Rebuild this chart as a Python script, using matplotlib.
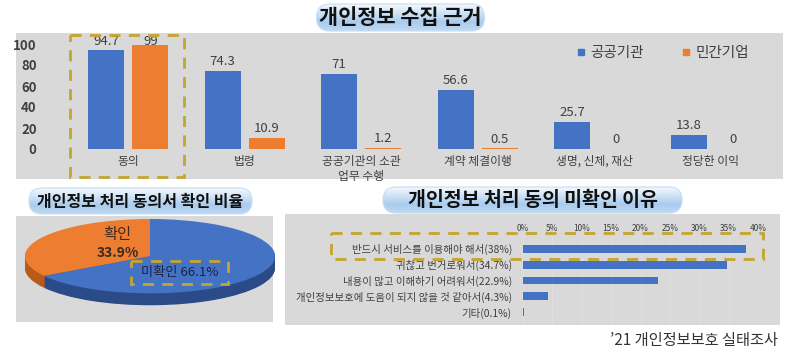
import numpy as np
import matplotlib
matplotlib.use("Agg")
import matplotlib.pyplot as plt
from matplotlib.patches import Rectangle, FancyBboxPatch
from matplotlib.colors import LinearSegmentedColormap
from matplotlib.lines import Line2D

plt.rcParams['font.family'] = ['Noto Sans CJK KR', 'DejaVu Sans']

# ---------------- data ----------------
basis_categories = ["동의", "법령", "공공기관의 소관\n업무 수행", "계약 체결이행", "생명, 신체, 재산", "정당한 이익"]
public_values = [94.7, 74.3, 71, 56.6, 25.7, 13.8]
private_values = [99, 10.9, 1.2, 0.5, 0, 0]
series_names = ["공공기관", "민간기업"]
yticks_top = [0, 20, 40, 60, 80, 100]

pie_labels = ["확인", "미확인"]
pie_values = [33.9, 66.1]

reason_labels = ["반드시 서비스를 이용해야 해서", "귀찮고 번거로워서", "내용이 많고 이해하기 어려워서",
                 "개인정보보호에 도움이 되지 않을 것 같아서", "기타"]
reason_values = [38, 34.7, 22.9, 4.3, 0.1]
reason_ticks = [0, 5, 10, 15, 20, 25, 30, 35, 40]

titles = ["개인정보 수집 근거", "개인정보 처리 동의서 확인 비율", "개인정보 처리 동의 미확인 이유"]
source_text = "’21 개인정보보호 실태조사"

# ---------------- styling ----------------
W, H = 800, 356
BLUE = "#4472C4"
ORANGE = "#ED7D31"
GRAY = "#D9D9D9"
DASH = "#C4A52E"
TXT = "#404040"

fig = plt.figure(figsize=(W / 100, H / 100), dpi=100)
fig.patch.set_facecolor("white")


def px_axes(x0, y0, x1, y1, z=1):
    return fig.add_axes([x0 / W, 1 - y1 / H, (x1 - x0) / W, (y1 - y0) / H], zorder=z)


# background layer (pixel coords)
bg = px_axes(0, 0, W, H, z=0)
bg.set_xlim(0, W)
bg.set_ylim(H, 0)
bg.axis("off")
for (x0, y0, x1, y1) in [(16, 33, 783, 179), (16, 216, 273, 322), (285, 214, 780, 325)]:
    bg.add_patch(Rectangle((x0, y0), x1 - x0, y1 - y0, facecolor=GRAY, edgecolor="none"))

# ---------------- top bar chart ----------------
ax = px_axes(70, 44, 769, 149, z=2)
ax.set_facecolor("none")
x = np.arange(len(basis_categories))
bw = 0.31
off = 0.19
b1 = ax.bar(x - off, public_values, bw, color=BLUE, label=series_names[0])
b2 = ax.bar(x + off, private_values, bw, color=ORANGE, label=series_names[1])
for bars, vals in [(b1, public_values), (b2, private_values)]:
    for r, v in zip(bars, vals):
        ax.text(r.get_x() + r.get_width() / 2, min(v + 9, 102.5), f"{v:g}", ha="center",
                va="center", fontsize=9.5, color=TXT)
ax.set_xlim(-0.5, len(basis_categories) - 0.5)
ax.set_ylim(0, 100)
ax.axhline(0, color="#E6E6E6", lw=0.8, zorder=0)
ax.set_yticks(yticks_top)
ax.set_yticklabels([str(t) for t in yticks_top], fontsize=9.5, color=TXT, fontweight="bold")
ax.set_xticks(x)
ax.set_xticklabels(basis_categories, fontsize=8.5, color=TXT, linespacing=1.25)
ax.tick_params(axis="y", length=0, pad=24)
ax.tick_params(axis="x", length=0, pad=4)
for s in ax.spines.values():
    s.set_visible(False)
handles = [Line2D([], [], marker="s", linestyle="none", markersize=5, color=BLUE),
           Line2D([], [], marker="s", linestyle="none", markersize=5, color=ORANGE)]
fig.legend(handles, series_names, loc="center right", bbox_to_anchor=(762 / W, 1 - 53 / H),
           ncol=2, frameon=False, fontsize=10.5, handlelength=0.6, handletextpad=0.35,
           columnspacing=2.6, labelcolor=TXT)

# ---------------- pie chart (3D look) ----------------
pax = px_axes(25, 219, 275, 306, z=2)
pax.set_facecolor("none")
depth = 0.32
dark = ["#B85A1A", "#2A4A88"]
cols = [ORANGE, BLUE]
for k in range(16, 0, -1):
    pax.pie(pie_values, colors=dark, startangle=90, counterclock=True,
            center=(0, -depth * k / 16), radius=1, wedgeprops=dict(linewidth=0))
pax.pie(pie_values, colors=cols, startangle=90, counterclock=True, center=(0, 0), radius=1,
        wedgeprops=dict(linewidth=0))
pax.set_aspect("auto")
pax.set_xlim(-1.0, 1.0)
pax.set_ylim(-1.0 - depth - 0.02, 1.0)
pax.axis("off")
pax.text(-0.26, 0.57, pie_labels[0], ha="center", va="center", fontsize=11, color="#3a2a20")
pax.text(-0.26, 0.08, f"{pie_values[0]}%", ha="center", va="center", fontsize=10,
         color="#3a2a20", fontweight="bold")
pax.text(0.236, -0.43, f"{pie_labels[1]} {pie_values[1]}%", ha="center", va="center",
         fontsize=9.5, color="#1c2340")

# ---------------- horizontal bar chart ----------------
hax = px_axes(523, 237, 758, 324, z=2)
hax.set_facecolor("none")
y = np.arange(len(reason_labels))
hax.barh(y, reason_values, height=0.5, color=BLUE)
hax.set_xlim(0, 40)
hax.set_ylim(len(reason_labels) - 0.25, -0.75)
hax.set_xticks(reason_ticks)
hax.set_xticklabels([f"{t}%" for t in reason_ticks], fontsize=6, color=TXT)
hax.xaxis.tick_top()
hax.set_yticks(y)
hax.set_yticklabels([f"{l}({v:g}%)" for l, v in zip(reason_labels, reason_values)],
                    fontsize=7.5, color=TXT)
hax.tick_params(axis="x", length=0, pad=3)
hax.tick_params(axis="y", length=0, pad=8)
hax.grid(axis="x", color="#E2E2E2", lw=0.6)
hax.set_axisbelow(True)
for s in hax.spines.values():
    s.set_visible(False)

# ---------------- foreground: titles, dashed boxes, source ----------------
fg = px_axes(0, 0, W, H, z=5)
fg.set_facecolor("none")
fg.axis("off")
cmap = LinearSegmentedColormap.from_list("tb", ["#F4F9FE", "#CFE3F6", "#A9CCEE", "#BFD9F2"])
grad = np.linspace(0, 1, 64).reshape(-1, 1)
title_boxes = [(303, 4, 498, 31, 15), (16, 188, 265, 214, 11.5), (370, 187, 695, 213, 14)]
for (x0, y0, x1, y1, fs), t in zip(title_boxes, titles):
    rr = (y1 - y0) / 2
    p = FancyBboxPatch((x0 + rr, y0), (x1 - x0) - 2 * rr, (y1 - y0),
                       boxstyle=f"round,pad=0,rounding_size={rr}", facecolor="none",
                       edgecolor="#C6DDF3", lw=0.8, mutation_aspect=1)
    fg.add_patch(p)
    p2 = FancyBboxPatch((x0 + rr, y0), (x1 - x0) - 2 * rr, (y1 - y0),
                        boxstyle=f"round,pad=0,rounding_size={rr}", facecolor="none",
                        edgecolor="none")
    fg.add_patch(p2)
    im = fg.imshow(grad, cmap=cmap, extent=(x0, x1, y1, y0), aspect="auto", zorder=0.5)
    im.set_clip_path(p2)
    fg.text((x0 + x1) / 2, (y0 + y1) / 2 + 0.5, t, ha="center", va="center", fontsize=fs,
            fontweight="bold", color="#111111", zorder=3)
fg.set_xlim(0, W)
fg.set_ylim(H, 0)

for (x0, y0, x1, y1) in [(70, 35, 184, 177), (131, 261, 228, 284), (331, 233, 763, 259)]:
    fg.add_patch(Rectangle((x0, y0), x1 - x0, y1 - y0, facecolor="none", edgecolor=DASH,
                           lw=2, linestyle=(0, (4, 3))))

fg.text(778, 340, source_text, ha="right", va="center", fontsize=11, color="#333333")

fig.savefig("out.png", dpi=100)
